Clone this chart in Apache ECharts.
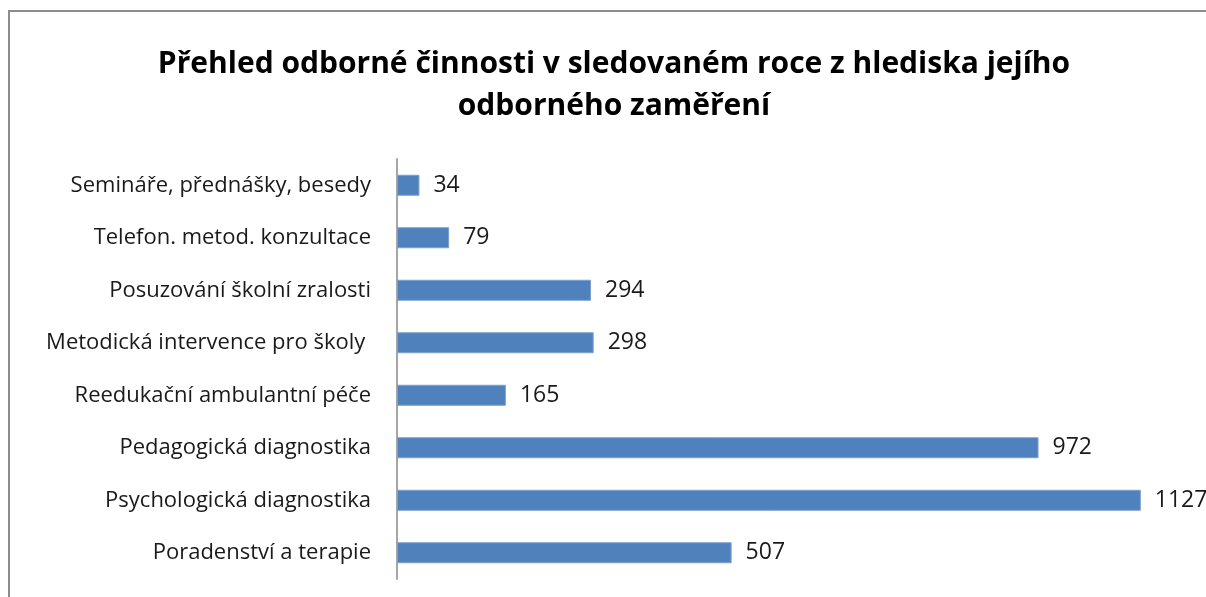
<!DOCTYPE html>
<html>
<head>
<meta charset="utf-8">
<script src="https://cdn.jsdelivr.net/npm/echarts@6/dist/echarts.min.js"></script>
<style>
html, body { margin: 0; padding: 0; background: #fff; }
#chartWrap { width: 1206px; height: 597px; }
</style>
</head>
<body>
<div id="chartWrap"></div>
<script>
// kategorie shora dolu, hodnoty ve stejnem poradi
var categories = [
    'Semináře, přednášky, besedy',
    'Telefon. metod. konzultace',
    'Posuzování školní zralosti',
    'Metodická intervence pro školy ',
    'Reedukační ambulantní péče',
    'Pedagogická diagnostika',
    'Psychologická diagnostika',
    'Poradenství a terapie'
];
var values = [34, 79, 294, 298, 165, 972, 1127, 507];
var titleText = 'Přehled odborné činnosti v sledovaném roce z hlediska jejího\nodborného zaměření';

var font = '"Open Sans", "Noto Sans", sans-serif';
var myChart = echarts.init(document.getElementById('chartWrap'));

myChart.setOption({
    backgroundColor: '#fff',
    animation: false,
    title: {
        text: titleText,
        left: 609, // stred titulku ~614 px
        textAlign: 'center',
        top: 38,
        textStyle: {
            fontFamily: font,
            fontSize: 30,
            fontWeight: 'bold',
            color: '#000',
            lineHeight: 42
        }
    },
    graphic: [{
        type: 'rect',
        shape: { x: 9, y: 11, width: 1400, height: 800 },
        style: { fill: 'none', stroke: '#8c8c8c', lineWidth: 2 },
        silent: true
    }],
    grid: {
        left: 397,
        right: 17, // 1200 * 0.66 px
        top: 159,
        bottom: 18
    },
    xAxis: {
        type: 'value',
        min: 0,
        max: 1200,
        show: false
    },
    yAxis: {
        type: 'category',
        inverse: true,
        data: categories,
        axisLine: { lineStyle: { color: '#a6a6a6', width: 2 } },
        axisTick: { show: false },
        axisLabel: {
            margin: 26,
            fontFamily: font,
            fontSize: 22,
            color: '#1a1a1a'
        }
    },
    series: [{
        type: 'bar',
        data: values,
        barWidth: 21,
        itemStyle: {
            color: '#4f81bd',
            borderColor: '#7ba0cd',
            borderWidth: 1
        },
        label: {
            show: true,
            position: 'right',
            distance: 14,
            fontFamily: font,
            fontSize: 23,
            color: '#1a1a1a'
        }
    }]
});
</script>
</body>
</html>
